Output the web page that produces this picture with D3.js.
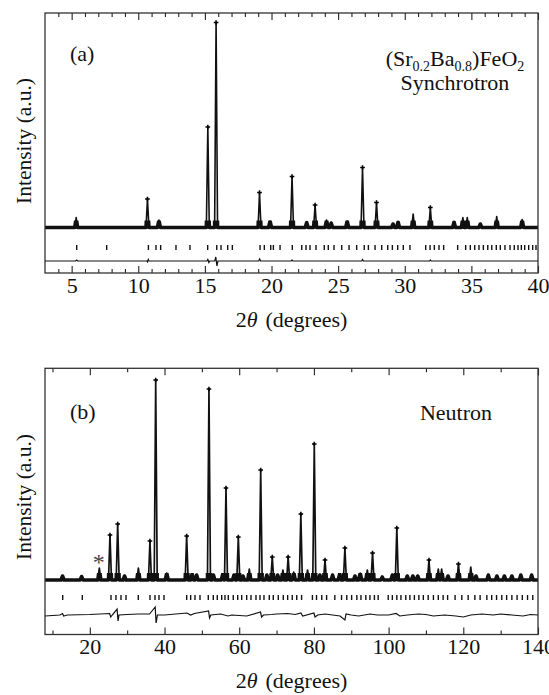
<!DOCTYPE html>
<html><head><meta charset="utf-8">
<script src="https://cdn.jsdelivr.net/npm/d3@7"></script>
<style>body{margin:0;background:#fff}svg{display:block}</style>
</head><body>
<script>
// ---------- Panel (a): synchrotron ----------
const aTickLabels = [5, 10, 15, 20, 25, 30, 35, 40];
const aMinorTicks = [4,6,7,8,9,11,12,13,14,16,17,18,19,21,22,23,24,26,27,28,29,31,32,33,34,36,37,38,39];
const aPeakPos = [5.34, 10.69, 11.55, 15.22, 15.84, 19.10, 19.89, 21.54, 22.64, 23.27, 24.13, 24.48, 25.68, 26.83, 27.88, 29.12, 29.50, 30.63, 31.92, 33.70, 34.36, 34.69, 35.67, 36.90, 38.81];
const aPeakInt = [10, 28.5, 7.5, 100.5, 205, 35, 6.5, 51, 5, 22.5, 7.5, 4.5, 6.5, 60, 25, 3.5, 5.5, 13.5, 20, 5.5, 10, 10, 3.5, 11, 8];
const aReflections = [5.38, 7.63, 10.76, 11.33, 11.68, 12.83, 13.88, 15.21, 15.89, 16.21, 16.71, 17.06, 19.14, 19.46, 19.94, 20.14, 20.64, 21.56, 22.27, 22.59, 22.89, 23.34, 23.96, 24.26, 24.69, 25.27, 25.82, 26.39, 26.96, 27.27, 27.77, 28.27, 28.72, 29.07, 29.47, 29.89, 30.39, 31.57, 31.90, 32.22, 32.57, 32.92, 33.97, 34.57, 34.92, 35.25, 35.57, 35.90, 36.23, 36.53, 36.87, 37.17, 37.52, 37.90, 38.22, 38.50, 38.75, 39.00, 39.30, 39.60, 39.85];
const aDiffPos = [3, 5.30, 5.38, 5.45, 10.64, 10.69, 10.75, 10.80, 15.15, 15.22, 15.30, 15.36, 15.74, 15.82, 15.90, 15.98, 19.04, 19.11, 19.18, 21.48, 21.54, 21.60, 26.77, 26.83, 26.90, 31.86, 31.92, 31.98, 40];
const aDiffVal = [0, 0, 1, 0, 0, -1, 1.5, 0, 0, 1.5, -1.5, 0, 0, 4, -5, 0, 0, 2, 0, 0, 1, 0, 0, 1.5, 0, 0, 1, 0, 0];

// ---------- Panel (b): neutron ----------
const bTickLabels = [20, 40, 60, 80, 100, 120, 140];
const bMinorTicks = [10, 30, 50, 70, 90, 110, 130];
const bPeakPos = [12.7, 17.8, 22.55, 25.4, 27.46, 29.3, 33.0, 36.1, 37.64, 40.6, 45.93, 47.4, 48.6, 51.9, 53.1, 55.6, 56.46, 58.6, 59.76, 61.0, 62.7, 65.75, 67.4, 68.85, 70.3, 71.7, 73.1, 74.6, 76.5, 78.3, 80.1, 81.6, 82.97, 85.0, 86.9, 88.3, 91.0, 92.4, 94.3, 95.7, 98.3, 101.0, 102.2, 105.0, 106.5, 107.8, 110.8, 113.3, 114.2, 115.9, 118.7, 122.0, 123.4, 126.7, 129.0, 131.0, 133.0, 135.4, 138.3];
const bPeakInt = [4, 3.5, 12, 45, 56, 4, 12, 39, 200, 7, 44, 6, 5, 191, 5, 6, 92, 5, 43, 4, 11, 110, 5, 23, 5, 10, 23, 8, 66, 10, 136, 5, 20, 5, 6, 32, 4, 7, 10, 27, 3, 5, 52, 4, 4, 4, 20, 11, 11, 4, 16, 13, 4, 5, 4, 4, 4, 5, 5];
const bReflections = [12.74, 17.99, 25.67, 27.0, 28.35, 29.69, 32.98, 36.11, 37.45, 38.52, 39.86, 45.94, 47.0, 48.16, 49.5, 51.72, 53.06, 54.13, 55.31, 56.19, 57.08, 58.41, 59.59, 60.66, 62.0, 63.15, 64.49, 65.56, 66.63, 68.05, 69.12, 70.46, 71.8, 72.97, 74.2, 75.4, 76.7, 79.6, 80.7, 82.1, 83.4, 85.6, 87.4, 88.8, 90.1, 91.5, 92.6, 93.9, 95.0, 96.2, 97.2, 99.9, 101.0, 102.2, 103.3, 104.6, 105.7, 106.9, 108.1, 109.3, 110.6, 112.0, 113.3, 114.6, 115.8, 117.8, 119.6, 121.3, 123.1, 124.5, 126.3, 127.6, 128.9, 130.3, 131.6, 133.0, 134.4, 135.8, 137.2, 138.6];
const bDiffPos = [8, 12, 12.7, 13.0, 14, 20, 25.3, 25.6, 26, 27.3, 27.55, 27.8, 30, 33, 36, 37.5, 37.75, 38.1, 40, 46, 47, 48, 51.8, 52.05, 52.4, 55, 57, 58, 62, 65.7, 66.0, 66.5, 68.7, 70, 73, 75, 76.5, 77, 80.0, 80.3, 81, 83, 85, 87, 88.3, 88.6, 90, 92, 95, 97, 100, 102, 103, 105, 108, 110, 112, 115, 118, 120, 122, 125, 128, 130, 133, 136, 138, 140];
const bDiffVal = [-1, 0, 1.5, -1, 0, 0.5, 1.5, -2, 0, 6, -6, 0, 0.5, 1, 1, 8, -8, 0, 0, 2, 0, 1.5, 4, -3, 0, 1, -1, 0, -1, 3, -2, 0, 0.5, 1, 1.5, 0.5, 2, -1, 2, -2, 0, 1, 0, -1, -5, 1, 0, -1, 1, 0, 0, 1.5, -1, 0, 1, 0.5, -1, 0, -1, -2, 0, 1, 0, 1, 0, -1, 0.5, 0];

const W = 549, H = 695;
const FONT = "'Liberation Serif','Times New Roman',serif";
const svg = d3.select("body").append("svg").attr("width", W).attr("height", H)
  .style("font-family", FONT);
const defs = svg.append("defs");

function buildProfile(pos, ints, w, dom) {
  const idx = d3.range(pos.length).sort((i, j) => pos[i] - pos[j]);
  const pts = [[dom[0], 0]];
  idx.forEach((i, k) => {
    const p = pos[i];
    const prev = k > 0 ? pos[idx[k - 1]] : -Infinity;
    const next = k < idx.length - 1 ? pos[idx[k + 1]] : Infinity;
    const wl = Math.min(w, (p - prev) / 2), wr = Math.min(w, (next - p) / 2);
    pts.push([p - wl, 0], [p, ints[i]], [p + wr, 0]);
  });
  pts.push([dom[1], 0]);
  return pts;
}

function panel(cfg) {
  const x = d3.scaleLinear().domain(cfg.xDom).range([45, 538]);
  const y = d3.scaleLinear().domain(cfg.yDom).range([cfg.bottom, cfg.top]);
  const g = svg.append("g");

  // clip band around the baseline: the dense observed points make it look thick
  defs.append("clipPath").attr("id", cfg.id + "band").append("rect")
    .attr("x", 45).attr("width", 493).attr("y", y(0) - 7).attr("height", 11);

  const prof = buildProfile(cfg.peakPos, cfg.peakInt, cfg.w, cfg.xDom);
  const line = d3.line().x(d => x(d[0])).y(d => y(d[1]));
  g.append("path").attr("d", line(prof)).attr("fill", "none")
    .attr("clip-path", `url(#${cfg.id}band)`)
    .attr("stroke", "#111").attr("stroke-width", cfg.obsW).attr("stroke-linejoin", "round");
  g.append("path").attr("d", line(prof)).attr("fill", "none")
    .attr("stroke", "#111").attr("stroke-width", cfg.peakW).attr("stroke-linejoin", "round");
  g.selectAll("path.pt").data(cfg.peakPos.map((p, i) => [p, cfg.peakInt[i]]).filter(d => d[1] > 15))
    .enter().append("path").attr("class", "pt")
    .attr("transform", d => `translate(${x(d[0])},${y(d[1])})`)
    .attr("d", d3.symbol().type(d3.symbolCross).size(12)).attr("fill", "#000");

  // reflection markers
  g.selectAll("line.refl").data(cfg.refl).enter().append("line").attr("class", "refl")
    .attr("x1", d => x(d)).attr("x2", d => x(d))
    .attr("y1", y(cfg.markY) - 2.5).attr("y2", y(cfg.markY) + 2.5)
    .attr("stroke", "#111").attr("stroke-width", 1.4);

  // difference curve
  const diffPts = cfg.diffPos.map((p, i) => [p, cfg.diffOff + cfg.diffVal[i]]);
  g.append("path").attr("d", line(diffPts)).attr("fill", "none")
    .attr("stroke", "#111").attr("stroke-width", 1.2);

  // axes (ticks inward)
  const axB = g.append("g").attr("transform", `translate(0,${cfg.bottom})`)
    .call(d3.axisBottom(x).tickValues(cfg.ticks).tickSize(-7).tickPadding(4).tickFormat(d3.format("d")));
  const axBm = g.append("g").attr("transform", `translate(0,${cfg.bottom})`)
    .call(d3.axisBottom(x).tickValues(cfg.minor).tickSize(-4).tickFormat(""));
  const axT = g.append("g").attr("transform", `translate(0,${cfg.top})`)
    .call(d3.axisTop(x).tickValues(cfg.ticks).tickSize(-7).tickFormat(""));
  const axTm = g.append("g").attr("transform", `translate(0,${cfg.top})`)
    .call(d3.axisTop(x).tickValues(cfg.minor).tickSize(-4).tickFormat(""));
  [axB, axBm, axT, axTm].forEach(a => {
    a.select(".domain").remove();
    a.selectAll("line").attr("stroke", "#222").attr("stroke-width", 1.1);
    a.selectAll("text").attr("font-size", 22).attr("font-family", FONT).attr("fill", "#111");
  });

  // frame
  g.append("rect").attr("x", 45).attr("y", cfg.top).attr("width", 493).attr("height", cfg.bottom - cfg.top)
    .attr("fill", "none").attr("stroke", "#333").attr("stroke-width", 1.3);

  // axis titles
  const xt = g.append("text").attr("x", 291.5).attr("y", cfg.xTitleY).attr("text-anchor", "middle")
    .attr("font-size", 22).attr("fill", "#111");
  xt.append("tspan").text("2");
  xt.append("tspan").attr("font-style", "italic").text("θ");
  xt.append("tspan").attr("dx", 8).text("(degrees)");
  g.append("text").attr("transform", `translate(31,${cfg.yTitleC}) rotate(-90)`)
    .attr("text-anchor", "middle").attr("font-size", 21.5).attr("fill", "#111").text("Intensity (a.u.)");

  g.append("text").attr("x", 70).attr("y", cfg.tagY).attr("font-size", 22).attr("fill", "#111").text(cfg.tag);
  return {x, y, g};
}

const pa = panel({
  id: "a", xDom: [3, 40], yDom: [-45.5, 214.5], top: 13, bottom: 273,
  peakPos: aPeakPos, peakInt: aPeakInt, w: 0.11, obsW: 3.6, peakW: 1.6,
  refl: aReflections, markY: -20, diffPos: aDiffPos, diffVal: aDiffVal, diffOff: -33.5,
  ticks: aTickLabels, minor: aMinorTicks, xTitleY: 327, yTitleC: 141, tag: "(a)", tagY: 61
});
const f = pa.g.append("text").attr("x", 455).attr("y", 66).attr("text-anchor", "middle")
  .attr("font-size", 22).attr("fill", "#111");
f.append("tspan").text("(Sr");
f.append("tspan").attr("dy", 5).attr("font-size", 14).text("0.2");
f.append("tspan").attr("dy", -5).text("Ba");
f.append("tspan").attr("dy", 5).attr("font-size", 14).text("0.8");
f.append("tspan").attr("dy", -5).text(")FeO");
f.append("tspan").attr("dy", 5).attr("font-size", 14).text("2");
pa.g.append("text").attr("x", 455).attr("y", 90).attr("text-anchor", "middle")
  .attr("font-size", 22).attr("fill", "#111").text("Synchrotron");

const pb = panel({
  id: "b", xDom: [8, 140], yDom: [-54.5, 211.7], top: 368.3, bottom: 634.5,
  peakPos: bPeakPos, peakInt: bPeakInt, w: 0.4, obsW: 3.6, peakW: 1.7,
  refl: bReflections, markY: -17.5, diffPos: bDiffPos, diffVal: bDiffVal, diffOff: -35,
  ticks: bTickLabels, minor: bMinorTicks, xTitleY: 688, yTitleC: 497, tag: "(b)", tagY: 419
});
pb.g.append("text").attr("x", 456).attr("y", 420).attr("text-anchor", "middle")
  .attr("font-size", 22).attr("fill", "#111").text("Neutron");
pb.g.append("text").attr("x", pb.x(22.4)).attr("y", pb.y(12) + 2).attr("text-anchor", "middle")
  .attr("font-size", 24).attr("fill", "#444").text("*");
</script>
</body></html>
